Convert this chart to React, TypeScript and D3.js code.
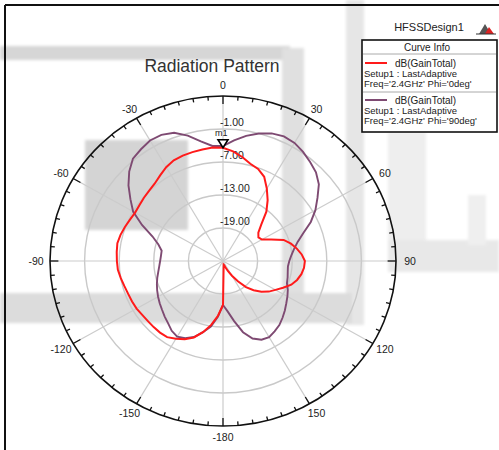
import React from "react";
import * as d3 from "d3";

// Theta (deg) sampled every 5 degrees
const THETA = [
  -180, -175, -170, -165, -160, -155, -150, -145, -140, -135, -130, -125, -120,
  -115, -110, -105, -100, -95, -90, -85, -80, -75, -70, -65, -60, -55, -50, -45,
  -40, -35, -30, -25, -20, -15, -10, -5, 0, 5, 10, 15, 20, 25, 30, 35, 40, 45,
  50, 55, 60, 65, 70, 75, 80, 85, 90, 95, 100, 105, 110, 115, 120, 125, 130,
  135, 140, 145, 150, 155, 160, 165, 170, 175, 180,
];

// dB(GainTotal), Phi = 0deg (red)
const GAIN_PHI0 = [
  -17.0, -15.0, -13.2, -11.6, -10.2, -9.3, -8.7, -8.1, -8.0, -8.0, -8.0, -7.9, -7.7,
  -7.6, -7.5, -7.3, -7.0, -6.7, -6.6, -6.5, -6.4, -6.6, -6.9, -7.2, -7.4, -7.3, -7.1, -6.9,
  -6.6, -6.0, -5.3, -4.8, -4.6, -4.5, -4.4, -4.3, -4.4, -5.0, -5.8, -6.7, -7.2, -8.1, -9.8,
  -11.5, -13.3, -15.6, -17.0, -17.5, -17.2, -15.8, -13.8, -12.8, -12.0, -11.3, -10.8, -10.9,
  -11.2, -11.7, -12.4, -13.5, -14.5, -15.3, -16.3, -17.5, -18.8, -20.5, -21.9, -23.0, -23.8,
  -24.2, -24.3, -23.8, -17.0,
];

// dB(GainTotal), Phi = 90deg (purple)
const GAIN_PHI90 = [
  -17.0, -14.8, -12.9, -11.6, -10.3, -9.5, -9.1, -9.5, -10.2, -10.7, -11.2, -11.6, -12.0,
  -12.4, -12.8, -13.2, -13.6, -13.9, -14.1, -14.2, -14.2, -13.4, -12.0, -9.5, -7.0, -5.4, -3.6, -2.0,
  -0.7, -0.2, 0.3, 0.3, -0.2, -1.4, -2.9, -4.0, -4.1, -3.0, -1.9, -1.0, -0.3, 0.0, -0.2,
  -0.8, -1.5, -2.2, -3.3, -5.0, -6.5, -8.2, -10.2, -11.6, -12.5, -13.1, -13.5, -13.7,
  -13.6, -13.4, -13.2, -12.6, -12.1, -11.6, -11.0, -10.4, -9.8, -9.4, -9.0, -9.2, -10.0,
  -11.6, -13.9, -15.8, -17.0,
];

const ANGLE_TICKS = [0, 30, 60, 90, 120, 150, 180, -150, -120, -90, -60, -30];
const ANGLE_LABELS = ["0", "30", "60", "90", "120", "150", "-180", "-150", "-120", "-90", "-60", "-30"];
const RADIAL_TICKS = [-19, -13, -7, -1];
const RADIAL_LABELS = ["-19.00", "-13.00", "-7.00", "-1.00"];
const RADIAL_DOMAIN = [-25, 5];

const TITLE = "Radiation Pattern";
const DESIGN_NAME = "HFSSDesign1";
const LEGEND_HEADER = "Curve Info";
const LEGEND_ITEMS = [
  { name: "dB(GainTotal)", setup: "Setup1 : LastAdaptive", freq: "Freq='2.4GHz' Phi='0deg'", color: "#ff1a1a" },
  { name: "dB(GainTotal)", setup: "Setup1 : LastAdaptive", freq: "Freq='2.4GHz' Phi='90deg'", color: "#7e4a72" },
];
const MARKER_NAME = "m1";
const MARKER_THETA = 0;

const W = 499;
const H = 450;
const CX = 223;
const CY = 261;
const RX = 173;
const RY = 165;
const FONT = "'Liberation Sans', Arial, sans-serif";

export default function App() {
  const r = d3.scaleLinear().domain(RADIAL_DOMAIN).range([0, 1]).clamp(true);
  const rad = (deg: number) => (deg * Math.PI) / 180;
  const px = (deg: number, n: number) => CX + n * RX * Math.sin(rad(deg));
  const py = (deg: number, n: number) => CY - n * RY * Math.cos(rad(deg));

  const line = d3
    .line<number>()
    .x((d, i) => px(THETA[i], r(d)))
    .y((d, i) => py(THETA[i], r(d)));

  const minorTicks = d3.range(0, 360, 5);
  const spokes = d3.range(0, 360, 30);

  const markerVal = GAIN_PHI0[THETA.indexOf(MARKER_THETA)];
  const mx = px(MARKER_THETA, r(markerVal));
  const my = py(MARKER_THETA, r(markerVal));

  return (
    <svg
      width={W}
      height={H}
      viewBox={`0 0 ${W} ${H}`}
      style={{ position: "absolute", left: 0, top: 0, background: "#fff" }}
      fontFamily={FONT}
    >
      <defs>
        <filter id="soft" x="-10%" y="-10%" width="120%" height="120%">
          <feGaussianBlur stdDeviation="1.6" />
        </filter>
      </defs>
      {/* faint scanned watermark shapes */}
      <g filter="url(#soft)">
        <rect x={0} y={46} width={290} height={14} fill="#d6d6d6" />
        <rect x={282} y={48} width={22} height={262} fill="#e0e0e0" />
        <rect x={346} y={0} width={18} height={325} fill="#e6e6e6" />
        <rect x={0} y={293} width={352} height={30} fill="#dcdcdc" />
        <rect x={85} y={140} width={103} height={90} fill="#d4d4d4" />
        <rect x={388} y={132} width={38} height={108} fill="#eeeeee" />
        <rect x={388} y={240} width={111} height={32} fill="#e8e8e8" />
        <rect x={468} y={195} width={18} height={50} fill="#efefef" />
      </g>

      {/* frame */}
      <line x1={5} y1={5} x2={W} y2={5} stroke="#111" strokeWidth={2} />
      <line x1={5} y1={5} x2={5} y2={H} stroke="#111" strokeWidth={2} />

      {/* title */}
      <text x={212} y={72} textAnchor="middle" fontSize={17.5} fill="#333">
        {TITLE}
      </text>

      {/* grid circles */}
      {RADIAL_TICKS.map((v) => (
        <ellipse
          key={v}
          cx={CX}
          cy={CY}
          rx={r(v) * RX}
          ry={r(v) * RY}
          fill="none"
          stroke="#c9c9c9"
          strokeWidth={1.4}
        />
      ))}
      {/* spokes */}
      {spokes.map((a) => (
        <line
          key={a}
          x1={CX}
          y1={CY}
          x2={px(a, 1)}
          y2={py(a, 1)}
          stroke="#cccccc"
          strokeWidth={1.2}
        />
      ))}

      {/* outer ring */}
      <ellipse cx={CX} cy={CY} rx={RX} ry={RY} fill="none" stroke="#111" strokeWidth={1.6} />
      {minorTicks.map((a) => {
        const len = a % 30 === 0 ? 8 : 4;
        const n2 = 1 - len / RY;
        return (
          <line
            key={a}
            x1={px(a, 1)}
            y1={py(a, 1)}
            x2={px(a, n2)}
            y2={py(a, n2)}
            stroke="#111"
            strokeWidth={1.3}
          />
        );
      })}

      {/* angle labels */}
      {ANGLE_TICKS.map((a, i) => (
        <text
          key={a}
          x={CX + (RX + 14) * Math.sin(rad(a))}
          y={CY - (RY + 11) * Math.cos(rad(a))}
          textAnchor="middle"
          dominantBaseline="central"
          fontSize={10.5}
          fill="#222"
        >
          {ANGLE_LABELS[i]}
        </text>
      ))}

      {/* radial labels */}
      {RADIAL_TICKS.map((v, i) => (
        <text
          key={v}
          x={CX - 3}
          y={py(0, r(v)) - 3}
          fontSize={10.5}
          fill="#222"
        >
          {RADIAL_LABELS[i]}
        </text>
      ))}

      {/* curves */}
      <path d={line(GAIN_PHI90) ?? ""} fill="none" stroke={LEGEND_ITEMS[1].color} strokeWidth={1.9} />
      <path d={line(GAIN_PHI0) ?? ""} fill="none" stroke={LEGEND_ITEMS[0].color} strokeWidth={2} />

      {/* marker */}
      <path
        d={`M${mx - 5},${my - 8} L${mx + 5},${my - 8} L${mx},${my} Z`}
        fill="#fff"
        stroke="#000"
        strokeWidth={1.6}
      />
      <text x={mx - 8} y={my - 12} fontSize={9} fill="#222">
        {MARKER_NAME}
      </text>

      {/* legend */}
      <text x={429} y={31} textAnchor="middle" fontSize={11} fill="#222">
        {DESIGN_NAME}
      </text>
      <g>
        <path d="M479,34 L485,24 L491,34 Z" fill="#555" />
        <path d="M485,34 L489,27 L494,34 Z" fill="#d22" />
        <line x1={476} y1={34} x2={496} y2={34} stroke="#333" strokeWidth={1} />
      </g>
      <rect x={362} y={40} width={135} height={92} fill="#fff" stroke="#111" strokeWidth={1.6} />
      <text x={427} y={51} textAnchor="middle" fontSize={10} fill="#222">
        {LEGEND_HEADER}
      </text>
      <line x1={363} y1={54} x2={496} y2={54} stroke="#aaa" strokeWidth={1} />
      {LEGEND_ITEMS.map((it, i) => {
        const y0 = 63 + i * 37;
        return (
          <g key={i}>
            {i > 0 && <line x1={363} y1={y0 - 8} x2={496} y2={y0 - 8} stroke="#aaa" strokeWidth={1} />}
            <line x1={365} y1={y0} x2={387} y2={y0} stroke={it.color} strokeWidth={2} />
            <text x={395} y={y0 + 3.5} fontSize={10} fill="#222">
              {it.name}
            </text>
            <text x={364} y={y0 + 13.5} fontSize={9.5} fill="#222">
              {it.setup}
            </text>
            <text x={364} y={y0 + 23.5} fontSize={9.5} fill="#222">
              {it.freq}
            </text>
          </g>
        );
      })}
    </svg>
  );
}
